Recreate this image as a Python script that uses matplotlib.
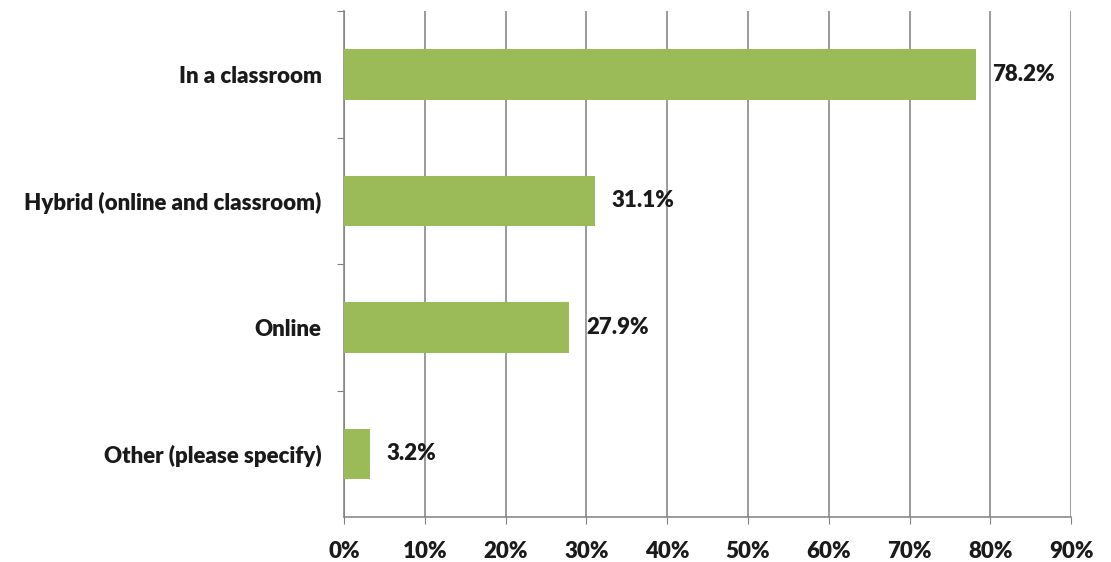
import matplotlib.pyplot as plt
from matplotlib.ticker import PercentFormatter

# survey answers, top to bottom
categories = ["In a classroom", "Hybrid (online and classroom)", "Online", "Other (please specify)"]
shares = [78.2, 31.1, 27.9, 3.2]
x_ticks = [0, 10, 20, 30, 40, 50, 60, 70, 80, 90]

plt.rcParams["font.family"] = ["Lato", "DejaVu Sans"]

fig = plt.figure(figsize=(11.11, 5.62), dpi=100)
ax = fig.add_axes([0.3096, 0.080, 0.6545, 0.900])

pos = list(range(len(categories)))
ax.barh(pos, shares, height=0.4, color="#9bbb59", zorder=3)

for p, v in zip(pos, shares):
    ax.annotate(f"{v:.1f}%", (v, p), xytext=(12, 0), textcoords="offset points",
                va="center", ha="left", fontsize=16, fontweight="heavy", color="#1a1a1a")

ax.set_xlim(0, 90)
ax.set_ylim(len(categories) - 0.5, -0.5)
ax.set_xticks(x_ticks)
ax.xaxis.set_major_formatter(PercentFormatter(decimals=0))

# category ticks sit between the bars
ax.set_yticks([p + 0.5 for p in pos[:-1]] + [-0.5], minor=False)
ax.set_yticklabels([])
ax.set_yticks(pos, minor=True)
ax.set_yticklabels(categories, minor=True, fontsize=16, fontweight="heavy", color="#1a1a1a")
ax.tick_params(axis="y", which="minor", length=0, pad=16)
ax.tick_params(axis="y", which="major", length=5, color="#808080", direction="out")
ax.tick_params(axis="x", length=5, color="#808080", direction="out", pad=12,
               labelsize=16, labelcolor="#1a1a1a")
for lbl in ax.get_xticklabels():
    lbl.set_fontweight("heavy")

ax.grid(axis="x", color="#7f7f7f", linewidth=1.1, zorder=0)
for side in ["top", "right"]:
    ax.spines[side].set_visible(False)
for side in ["left", "bottom"]:
    ax.spines[side].set_color("#808080")
    ax.spines[side].set_linewidth(1.1)

fig.savefig("out.png", dpi=100, facecolor="white")
